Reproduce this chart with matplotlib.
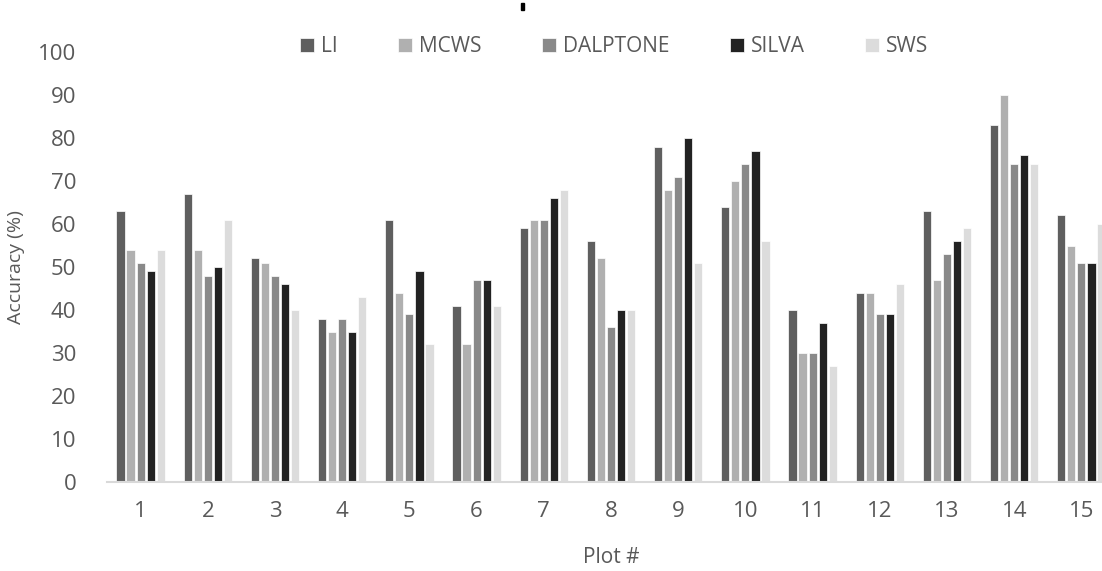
import matplotlib.pyplot as plt
import numpy as np
from matplotlib.patches import Rectangle

plt.rcParams['font.family'] = ['Open Sans', 'DejaVu Sans']

# data
plots = list(range(1, 16))
li = [63, 67, 52, 38, 61, 41, 59, 56, 78, 64, 40, 44, 63, 83, 62]
mcws = [54, 54, 51, 35, 44, 32, 61, 52, 68, 70, 30, 44, 47, 90, 55]
dalptone = [51, 48, 48, 38, 39, 47, 61, 36, 71, 74, 30, 39, 53, 74, 51]
silva = [49, 50, 46, 35, 49, 47, 66, 40, 80, 77, 37, 39, 56, 76, 51]
sws = [54, 61, 40, 43, 32, 41, 68, 40, 51, 56, 27, 46, 59, 74, 60]

names = ["LI", "MCWS", "DALPTONE", "SILVA", "SWS"]
colors = ["#5f5f5f", "#b0b0b0", "#898989", "#222222", "#dcdcdc"]
series = [li, mcws, dalptone, silva, sws]

fig = plt.figure(figsize=(11.02, 5.71), dpi=100)
ax = fig.add_axes([107/1102, 89/571, 1008/1102, 430/571])

x = np.array(plots)
slot = 0.149
width = 0.122
for k, (vals, name, c) in enumerate(zip(series, names, colors)):
    ax.bar(x + (k - 2) * slot, vals, width, color=c, label=name, edgecolor='white', linewidth=0.5)

ax.set_xlim(0.5, 15.5)
ax.set_ylim(0, 100)
ax.set_yticks(range(0, 101, 10))
ax.set_xticks(plots)
for s in ['top', 'right', 'left']:
    ax.spines[s].set_visible(False)
ax.spines['bottom'].set_color('#d9d9d9')
ax.spines['bottom'].set_linewidth(1.5)
ax.tick_params(length=0, labelsize=16, colors='#595959', pad=14)
ax.tick_params(axis='y', pad=22)
ax.set_ylabel("Accuracy (%)", fontsize=14, color='#595959')
ax.yaxis.set_label_coords(-0.081, 0.5)
ax.set_xlabel("Plot #", fontsize=15, color='#595959', labelpad=18)

leg = fig.legend(loc='center', bbox_to_anchor=(614/1102, 1 - 47/571), ncol=5, frameon=False,
                 fontsize=15, handlelength=0.67, handleheight=0.67, handletextpad=0.34,
                 columnspacing=2.9, labelcolor='#595959')

# small mark at the top (cut-off title)
fig.patches.append(Rectangle((521/1102, 1 - 10/571), 3/1102, 7/571,
                             transform=fig.transFigure, color='black', figure=fig))

fig.savefig("out.png", dpi=100)
